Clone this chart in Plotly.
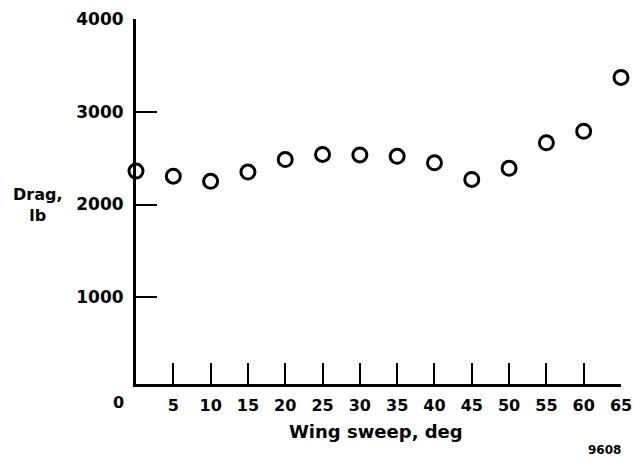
import plotly.graph_objects as go

sweep_deg = [0, 5, 10, 15, 20, 25, 30, 35, 40, 45, 50, 55, 60, 65]
drag_lb = [2360, 2305, 2250, 2350, 2485, 2540, 2535, 2520, 2450, 2270, 2390, 2665, 2790, 3370]
x_ticks = [5, 10, 15, 20, 25, 30, 35, 40, 45, 50, 55, 60, 65]
y_ticks = [1000, 2000, 3000, 4000]

FONT = "DejaVu Sans"
W, H = 633, 460
L, T = 136, 19
R = W - 621
B = H - 384
pw, ph = W - L - R, H - T - B

def px(x):
    return (x - L) / pw

def py(y):
    return (H - B - y) / ph

fig = go.Figure()
fig.add_trace(go.Scatter(
    x=sweep_deg, y=drag_lb, mode="markers",
    marker=dict(symbol="circle-open", size=14, color="black", line=dict(width=3, color="black")),
    cliponaxis=False, showlegend=False, hoverinfo="skip",
))

fig.update_layout(
    width=W, height=H,
    margin=dict(l=L, r=R, t=T, b=B, pad=0, autoexpand=False),
    paper_bgcolor="white", plot_bgcolor="white",
    font=dict(family=FONT, size=17, color="black", weight="bold"),
    xaxis=dict(
        range=[0, 65], tickvals=x_ticks, ticktext=[str(v) for v in x_ticks],
        ticks="inside", ticklen=21, tickwidth=2, tickcolor="black",
        showline=True, linewidth=3, linecolor="black",
        showgrid=False, zeroline=False, ticklabelstandoff=5, automargin=False,
        tickfont=dict(family=FONT, size=16, weight="bold"),
    ),
    yaxis=dict(
        range=[65, 4000], tickvals=y_ticks, ticktext=[str(v) for v in y_ticks],
        ticks="inside", ticklen=21, tickwidth=2, tickcolor="black",
        showline=True, linewidth=3, linecolor="black",
        showgrid=False, zeroline=False, ticklabelstandoff=6, automargin=False,
        tickfont=dict(family=FONT, size=17, weight="bold"),
    ),
    annotations=[
        dict(text="0", xref="paper", yref="paper", x=px(118), y=py(403),
             showarrow=False, xanchor="center", yanchor="middle",
             font=dict(family=FONT, size=16, weight="bold")),
        dict(text="Drag,<br>lb", xref="paper", yref="paper", x=px(38), y=py(205),
             showarrow=False, xanchor="center", yanchor="middle",
             font=dict(family=FONT, size=16, weight="bold")),
        dict(text="Wing sweep, deg", xref="paper", yref="paper", x=px(376), y=py(432),
             showarrow=False, xanchor="center", yanchor="middle",
             font=dict(family=FONT, size=18, weight="bold")),
        dict(text="9608", xref="paper", yref="paper", x=px(604), y=py(450),
             showarrow=False, xanchor="center", yanchor="middle",
             font=dict(family=FONT, size=12, weight="bold")),
    ],
)

fig.write_html(
    "out.html",
    config={"displayModeBar": False},
    post_script="document.body.style.margin='0';document.body.style.overflow='hidden';",
)
